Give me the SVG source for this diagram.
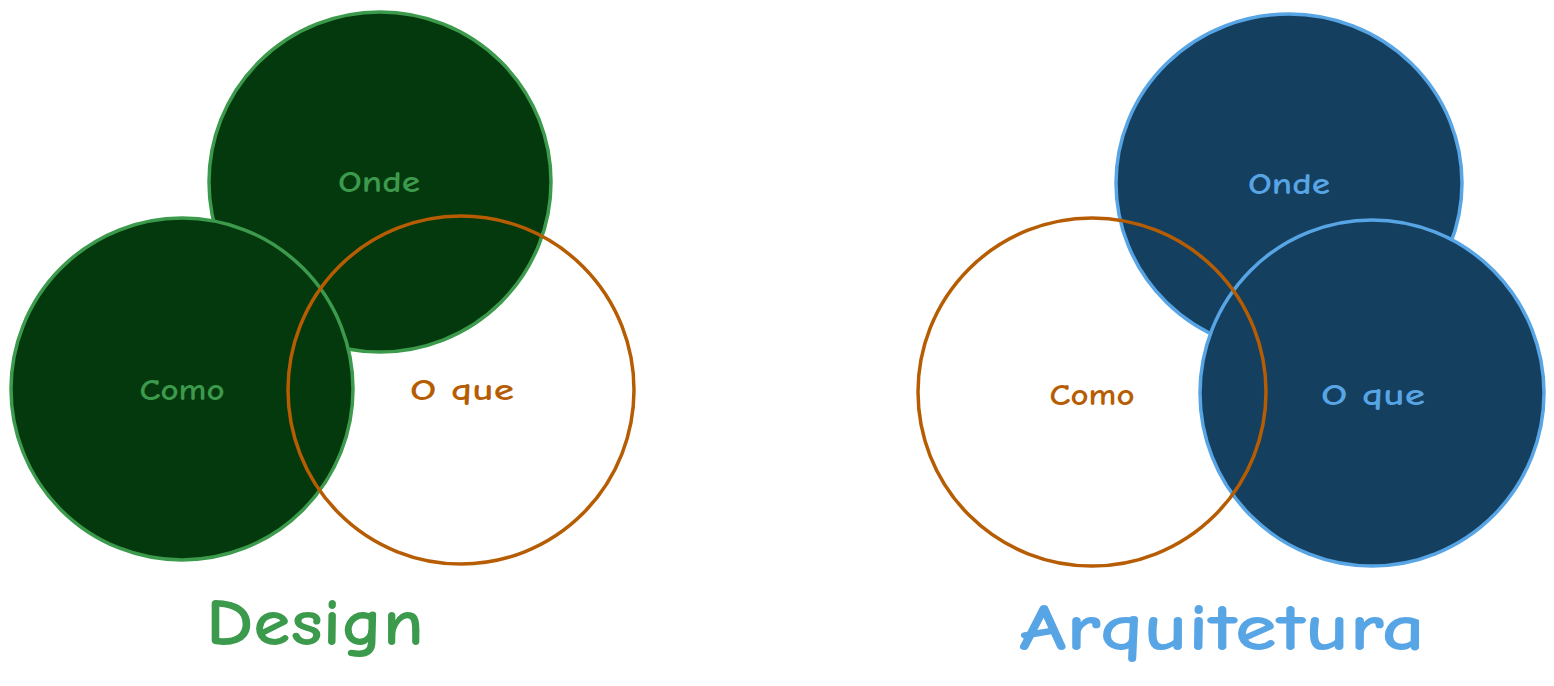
<svg xmlns="http://www.w3.org/2000/svg" width="1554" height="686" viewBox="0 0 1554 686">
<style>
.g{fill:#04380d;stroke:#3c9a4c;stroke-width:3.5}
.b{fill:#153f5f;stroke:#58a5e6;stroke-width:3.5}
.o{fill:none;stroke:#b65d03;stroke-width:3.5}
.t{font-family:"Comic Neue","Liberation Sans",sans-serif;text-anchor:middle;font-weight:bold}
.tg{fill:#3c9a4c}.tb{fill:#58a5e6}.to{fill:#b65d03}
</style>
<rect width="1554" height="686" fill="#ffffff"/>
<g id="design-onde"><ellipse class="g" cx="380" cy="182" rx="171" ry="170"/></g>
<g id="design-como"><ellipse class="g" cx="182" cy="389" rx="171" ry="171"/></g>
<g id="design-oque"><ellipse class="o" cx="461" cy="390" rx="173" ry="174"/></g>
<g id="design-labels">
<text class="t tg" x="379" y="192" font-size="30" textLength="82" lengthAdjust="spacingAndGlyphs">Onde</text>
<text class="t tg" x="182" y="400" font-size="30" textLength="85" lengthAdjust="spacingAndGlyphs">Como</text>
<text class="t to" x="462" y="400" font-size="30" textLength="104" lengthAdjust="spacingAndGlyphs">O que</text>
<text class="t tg" x="315" y="645" font-size="66" textLength="218" lengthAdjust="spacingAndGlyphs">Design</text>
</g>
<g id="arq-onde"><ellipse class="b" cx="1289" cy="183" rx="173" ry="169"/></g>
<g id="arq-oque"><ellipse class="b" cx="1372" cy="393" rx="172" ry="173"/></g>
<g id="arq-como"><ellipse class="o" cx="1092" cy="392" rx="174" ry="174"/></g>
<g id="arq-labels">
<text class="t tb" x="1289" y="194" font-size="30" textLength="82" lengthAdjust="spacingAndGlyphs">Onde</text>
<text class="t to" x="1092" y="405" font-size="30" textLength="85" lengthAdjust="spacingAndGlyphs">Como</text>
<text class="t tb" x="1373" y="405" font-size="30" textLength="104" lengthAdjust="spacingAndGlyphs">O que</text>
<text class="t tb" x="1222" y="650" font-size="66" textLength="406" lengthAdjust="spacingAndGlyphs">Arquitetura</text>
</g>
<g id="connectors"/>
</svg>
